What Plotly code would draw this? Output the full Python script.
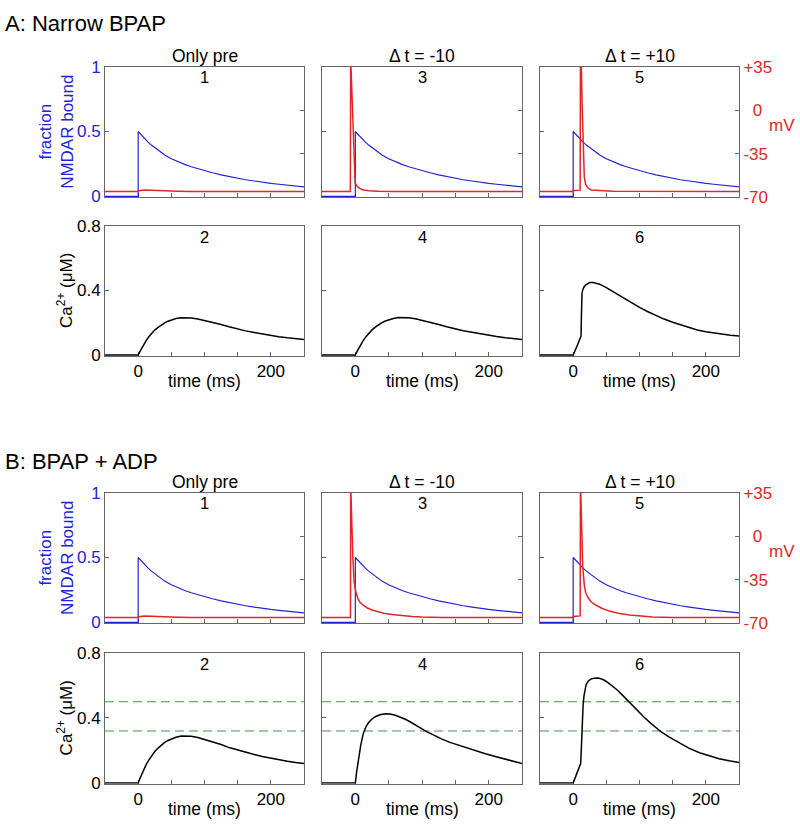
import plotly.graph_objects as go

# ---------------- data ----------------
X_TICKS = [0, 200]
X_TICK_TEXT = ["0", "200"]
X_MINOR_TICKS = [50, 100, 150]
FRAC_TICKS = [0, 0.5, 1]
FRAC_TICK_TEXT = ["0", "0.5", "1"]
MV_TICKS = [-70, -35, 0, 35]
MV_TICK_TEXT = ["-70", "-35", "\u00a0\u00a00", "+35"]
CA_TICKS = [0, 0.4, 0.8]
CA_TICK_TEXT = ["0", "0.4", "0.8"]
COL_TITLES = ["Only pre", "\u0394 t = -10", "\u0394 t = +10"]
SECTION_TITLES = ["A: Narrow BPAP", "B: BPAP + ADP"]
THRESHOLDS = [0.5, 0.32]

# fraction of NMDAR bound (same presynaptic input in every panel)
T_NMDA = [-50, 0, 0, 5, 10, 15, 20, 25, 30, 35, 40, 50, 60, 70, 80, 90, 100, 112, 125, 137,
          150, 162, 175, 187, 200, 212, 225, 237, 250]
NMDA = [0, 0, 0.5, 0.47, 0.443, 0.418, 0.395, 0.374, 0.354, 0.336, 0.318, 0.29, 0.266, 0.246,
        0.228, 0.212, 0.198, 0.182, 0.166, 0.152, 0.139, 0.128, 0.118, 0.108, 0.1, 0.093, 0.086,
        0.079, 0.073]

# membrane potential (mV)
T_V_PRE = [-50, 0, 0.5, 5, 10, 20, 30, 45, 60, 80, 250]
V_PRE = [-65.5, -65.5, -64.8, -64.3, -64.2, -64.4, -64.7, -65.0, -65.2, -65.4, -65.5]

T_V_A_M10 = [-50, -7.5, -7, -5.2, -3.5, -1.8, -0.3, 3, 7, 12, 20, 35, 60, 250]
V_A_M10 = [-65.5, -65.5, 42, 12, -20, -45, -58.5, -61.5, -63.2, -64.3, -64.9, -65.3, -65.5, -65.5]

T_V_A_P10 = [-50, 0, 0, 10.5, 11, 12.3, 13.5, 15, 16.8, 19, 22, 27, 40, 60, 250]
V_A_P10 = [-65.5, -65.5, -64.6, -64.4, 45, 35, 5, -30, -54, -60, -62.5, -64.2, -64.8, -65.3, -65.5]

T_V_B_M10 = [-50, -7.3, -7, -5.5, -3.7, -1.8, 0.8, 4, 7.3, 12.4, 17.4, 25, 32.5, 42.5, 55, 67.6,
             85, 100, 130, 250]
V_B_M10 = [-65.5, -65.5, 42, 5, -17.5, -37, -44.7, -50.5, -53.5, -55.8, -57.6, -59.4, -60.6,
           -62, -63.1, -64, -64.7, -65.1, -65.4, -65.5]

T_V_B_P10 = [-50, 0, 0, 10.5, 11, 12, 13, 14.4, 16.9, 19, 21.9, 27, 34.6, 44, 54.7, 68, 84.9,
             100, 120, 150, 250]
V_B_P10 = [-65.5, -65.5, -64.6, -64.2, 45, 20, -5, -24, -40, -45.5, -49, -52.8, -55.6, -58.2,
           -60.3, -62.1, -63.5, -64.4, -65, -65.4, -65.5]

# calcium (uM)
T_CA_A2 = [-50, 0, 3, 6, 9, 12, 16, 20, 25, 30, 35, 40, 45, 50, 57, 65, 72, 80, 90, 100, 112,
           125, 137, 150, 162, 175, 187, 200, 212, 225, 237, 250]
CA_A2 = [0, 0, 0.025, 0.048, 0.07, 0.09, 0.113, 0.133, 0.155, 0.172, 0.187, 0.2, 0.21, 0.218,
         0.226, 0.231, 0.232, 0.23, 0.224, 0.215, 0.203, 0.19, 0.176, 0.162, 0.15, 0.14, 0.13,
         0.122, 0.114, 0.107, 0.101, 0.096]

T_CA_A4 = [-50, 0, 3, 6, 9, 12, 16, 20, 25, 30, 35, 40, 45, 50, 57, 65, 72, 80, 90, 100, 112,
           125, 137, 150, 162, 175, 187, 200, 212, 225, 237, 250]
CA_A4 = [0, 0, 0.026, 0.049, 0.071, 0.091, 0.114, 0.134, 0.156, 0.173, 0.188, 0.201, 0.211,
         0.219, 0.227, 0.232, 0.233, 0.231, 0.225, 0.216, 0.204, 0.19, 0.176, 0.162, 0.151, 0.141,
         0.131, 0.123, 0.115, 0.108, 0.102, 0.097]

T_CA_A6 = [-50, 0, 6, 11.9, 12.3, 12.7, 13.3, 14.5, 16.5, 19.5, 22, 25, 30, 35, 40, 50, 60, 70,
           80, 90, 100, 112, 125, 137, 150, 162, 175, 187, 200, 212, 225, 237, 250]
CA_A6 = [0, 0, 0.058, 0.118, 0.22, 0.33, 0.38, 0.405, 0.423, 0.437, 0.445, 0.449, 0.449, 0.445,
         0.439, 0.418, 0.393, 0.367, 0.342, 0.318, 0.295, 0.27, 0.245, 0.223, 0.203, 0.187, 0.17,
         0.155, 0.144, 0.136, 0.129, 0.123, 0.118]

T_CA_B2 = [-50, 0, 3, 6, 9, 12, 16, 20, 25, 30, 35, 40, 45, 50, 57, 65, 72, 80, 90, 100, 112,
           125, 137, 150, 162, 175, 187, 200, 212, 225, 237, 250]
CA_B2 = [0, 0, 0.031, 0.06, 0.088, 0.113, 0.141, 0.166, 0.194, 0.215, 0.234, 0.25, 0.262, 0.272,
         0.282, 0.289, 0.29, 0.288, 0.28, 0.269, 0.254, 0.237, 0.218, 0.202, 0.188, 0.175, 0.163,
         0.152, 0.142, 0.134, 0.127, 0.12]

T_CA_B4 = [-50, 0, 2, 5, 8, 12, 16, 20, 25, 30, 37, 45, 52, 60, 67, 75, 82, 90, 98, 107, 118,
           130, 142, 155, 167, 180, 195, 210, 225, 237, 250]
CA_B4 = [0, 0, 0.07, 0.155, 0.23, 0.305, 0.347, 0.372, 0.394, 0.408, 0.42, 0.426, 0.424, 0.417,
         0.406, 0.392, 0.377, 0.36, 0.338, 0.316, 0.293, 0.27, 0.25, 0.232, 0.216, 0.199, 0.18,
         0.163, 0.147, 0.133, 0.12]

T_CA_B6 = [-50, 0, 6, 11.3, 12, 12.8, 13.8, 15, 16.3, 18, 19.6, 23, 27.2, 32, 37.2, 42, 47, 53,
           59.8, 66, 72, 78, 85, 92, 100, 107, 115, 124, 132.8, 145, 160, 175, 190.5, 205, 220,
           235, 250]
CA_B6 = [0, 0, 0.064, 0.12, 0.18, 0.3, 0.396, 0.48, 0.536, 0.58, 0.606, 0.628, 0.64, 0.645,
         0.646, 0.641, 0.632, 0.616, 0.596, 0.574, 0.55, 0.524, 0.496, 0.466, 0.435, 0.405, 0.375,
         0.344, 0.314, 0.282, 0.245, 0.213, 0.186, 0.166, 0.15, 0.137, 0.126]

V_DATA = [
    [(T_V_PRE, V_PRE), (T_V_A_M10, V_A_M10), (T_V_A_P10, V_A_P10)],
    [(T_V_PRE, V_PRE), (T_V_B_M10, V_B_M10), (T_V_B_P10, V_B_P10)],
]
CA_DATA = [
    [(T_CA_A2, CA_A2), (T_CA_A4, CA_A4), (T_CA_A6, CA_A6)],
    [(T_CA_B2, CA_B2), (T_CA_B4, CA_B4), (T_CA_B6, CA_B6)],
]

# ---------------- styling / layout ----------------
W, H = 800, 831
FONT = "Liberation Sans, Arial, Helvetica, sans-serif"
BLUE = "#2323d6"
RED = "#e42525"
BLACK = "#000000"
GREEN = "#3f9a3f"
FRAME = "#666666"

COL_X = [(105, 304), (322, 522), (540, 739)]
ROWS = [  # (top panel y-range px, bottom panel y-range px)
    ((59, 192.5), (222, 355)),
    ((495, 628.5), (659, 793)),
]
SECTION_Y = [15, 463]


def px(X):
    return X / W


def py(Y):
    return 1 - Y / H


fig = go.Figure()
layout = {}
annotations = []
counter = {"x": 0, "y": 0}


def nm(kind, i):
    return f"{kind}axis" if i == 1 else f"{kind}axis{i}"


def ref(kind, i):
    return kind if i == 1 else f"{kind}{i}"


base_axis = dict(showgrid=False, zeroline=False, showline=True, linecolor=FRAME,
                 linewidth=1, mirror=True, ticks="inside", ticklen=4, tickcolor=FRAME,
                 layer="below traces")
x_minor = dict(tickvals=X_MINOR_TICKS, ticks="inside", ticklen=4, tickcolor=FRAME, showgrid=False)

for s in range(2):
    (top_y, bot_y) = ROWS[s]
    annotations.append(dict(text=SECTION_TITLES[s], x=px(3), y=py(SECTION_Y[s]), xref="paper", yref="paper",
                            xanchor="left", yanchor="middle", showarrow=False,
                            font=dict(size=22, color="black", family=FONT)))
    for c in range(3):
        x0, x1 = COL_X[c]
        xc = (x0 + x1) / 2
        # ---------- top panel ----------
        counter["x"] += 1
        xi = counter["x"]
        counter["y"] += 1
        yl = counter["y"]
        counter["y"] += 1
        yr = counter["y"]
        layout[nm("x", xi)] = dict(base_axis, domain=[px(x0), px(x1)], anchor=ref("y", yl),
                                   range=[-50, 250], tickvals=X_TICKS, ticktext=X_TICK_TEXT,
                                   minor=x_minor, showticklabels=False)
        layout[nm("y", yl)] = dict(base_axis, domain=[py(top_y[1]), py(top_y[0])], anchor=ref("x", xi),
                                   range=[-0.006, 1], tickvals=FRAC_TICKS, ticktext=FRAC_TICK_TEXT,
                                   showticklabels=(c == 0),
                                   tickfont=dict(size=17, color=BLUE, family=FONT))
        layout[nm("y", yr)] = dict(base_axis, overlaying=ref("y", yl), anchor=ref("x", xi), side="right",
                                   range=[-70, 35], tickvals=MV_TICKS, ticktext=MV_TICK_TEXT,
                                   showticklabels=(c == 2), mirror=False,
                                   tickfont=dict(size=17, color=RED, family=FONT))
        fig.add_trace(go.Scatter(x=T_NMDA, y=NMDA, mode="lines", line=dict(color=BLUE, width=1.2),
                                 xaxis=ref("x", xi), yaxis=ref("y", yl), showlegend=False))
        tv, vv = V_DATA[s][c]
        fig.add_trace(go.Scatter(x=tv, y=vv, mode="lines", line=dict(color=RED, width=1.5),
                                 xaxis=ref("x", xi), yaxis=ref("y", yr), showlegend=False))
        annotations.append(dict(text=COL_TITLES[c], x=px(xc), y=py(top_y[0] - 11), xref="paper", yref="paper",
                                xanchor="center", yanchor="middle", showarrow=False,
                                font=dict(size=17.5, color="black", family=FONT)))
        annotations.append(dict(text=str(2 * c + 1), x=px(xc), y=py(top_y[0] + 11), xref="paper", yref="paper",
                                xanchor="center", yanchor="middle", showarrow=False,
                                font=dict(size=16.5, color="black", family=FONT)))
        # ---------- bottom panel ----------
        counter["x"] += 1
        xb = counter["x"]
        counter["y"] += 1
        yb = counter["y"]
        layout[nm("x", xb)] = dict(base_axis, domain=[px(x0), px(x1)], anchor=ref("y", yb),
                                   range=[-50, 250], tickvals=X_TICKS, ticktext=X_TICK_TEXT,
                                   minor=x_minor, showticklabels=True,
                                   tickfont=dict(size=17, color="black", family=FONT))
        layout[nm("y", yb)] = dict(base_axis, domain=[py(bot_y[1]), py(bot_y[0])], anchor=ref("x", xb),
                                   range=[-0.005, 0.8], tickvals=CA_TICKS, ticktext=CA_TICK_TEXT,
                                   showticklabels=(c == 0),
                                   tickfont=dict(size=17, color="black", family=FONT))
        if s == 1:
            for th in THRESHOLDS:
                fig.add_trace(go.Scatter(x=[-50, 250], y=[th, th], mode="lines",
                                         line=dict(color=GREEN, width=1.2, dash="9px,5px"),
                                         xaxis=ref("x", xb), yaxis=ref("y", yb), showlegend=False))
        tc, cc = CA_DATA[s][c]
        fig.add_trace(go.Scatter(x=tc, y=cc, mode="lines", line=dict(color=BLACK, width=1.5),
                                 xaxis=ref("x", xb), yaxis=ref("y", yb), showlegend=False))
        annotations.append(dict(text=str(2 * c + 2), x=px(xc), y=py(bot_y[0] + 11), xref="paper", yref="paper",
                                xanchor="center", yanchor="middle", showarrow=False,
                                font=dict(size=16.5, color="black", family=FONT)))
        annotations.append(dict(text="time (ms)", x=px(xc), y=py(bot_y[1] + 26), xref="paper", yref="paper",
                                xanchor="center", yanchor="middle", showarrow=False,
                                font=dict(size=17.5, color="black", family=FONT)))
    # axis titles for the section
    annotations.append(dict(text="fraction<br>NMDAR bound", x=px(57), y=py((top_y[0] + top_y[1]) / 2),
                            xref="paper", yref="paper", xanchor="center", yanchor="middle",
                            textangle=-90, showarrow=False,
                            font=dict(size=17, color=BLUE, family=FONT)))
    annotations.append(dict(text="Ca<sup>2+</sup> (\u03bcM)", x=px(65), y=py((bot_y[0] + bot_y[1]) / 2),
                            xref="paper", yref="paper", xanchor="center", yanchor="middle",
                            textangle=-90, showarrow=False,
                            font=dict(size=17, color="black", family=FONT)))
    annotations.append(dict(text="mV", x=px(782), y=py(top_y[0] + 60), xref="paper", yref="paper",
                            xanchor="center", yanchor="middle", showarrow=False,
                            font=dict(size=17, color=RED, family=FONT)))

fig.update_layout(width=W, height=H, margin=dict(l=0, r=0, t=0, b=0),
                  paper_bgcolor="white", plot_bgcolor="white",
                  font=dict(family=FONT, size=17, color="black"),
                  annotations=annotations, showlegend=False, hovermode=False, **layout)

POST = (
    "document.documentElement.style.margin='0';"
    "document.documentElement.style.padding='0';"
    "document.documentElement.style.overflow='hidden';"
    "document.body.style.margin='0';"
    "document.body.style.padding='0';"
    "document.body.style.overflow='hidden';"
    "var gd=document.getElementById('{plot_id}');"
    "gd.style.position='fixed';gd.style.left='0px';gd.style.top='0px';"
)

fig.write_html("out.html", config={"displayModeBar": False, "staticPlot": True},
               post_script=POST)
